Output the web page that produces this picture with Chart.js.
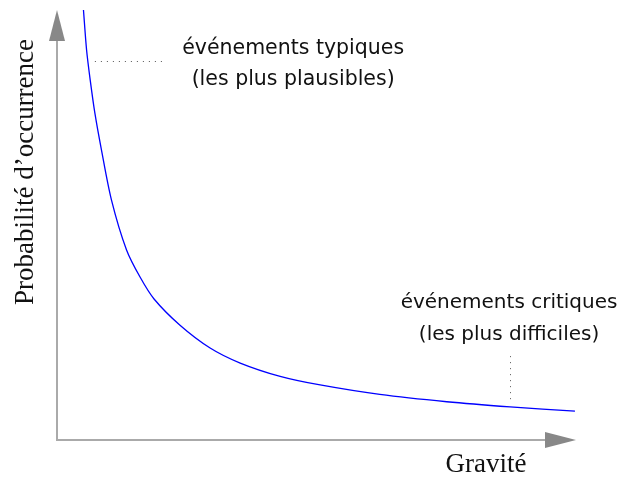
<!DOCTYPE html>
<html>
<head>
<meta charset="utf-8">
<script src="https://cdn.jsdelivr.net/npm/chart.js@4/dist/chart.umd.min.js"></script>
<style>
  html, body { margin: 0; padding: 0; background: #fff; }
  #chart { display: block; }
</style>
</head>
<body>
<canvas id="chart" width="624" height="478"></canvas>
<script>
// curve (gravity vs probability, arbitrary units)
const gravity = [0.51, 0.57, 0.64, 0.73, 0.85, 1.05, 1.34, 1.60, 1.87, 2.37, 2.95, 3.53, 4.30, 5.07, 6.22, 7.51, 8.73, 9.98];
const probability = [10.0, 9.07, 8.37, 7.60, 6.79, 5.58, 4.42, 3.79, 3.28, 2.67, 2.14, 1.79, 1.48, 1.28, 1.06, 0.89, 0.77, 0.67];

const xTitle = 'Gravité';
const yTitle = 'Probabilité d\u2019occurrence';
const typicalLabel = ['événements typiques', '(les plus plausibles)'];
const criticalLabel = ['événements critiques', '(les plus difficiles)'];

const SANS = '"DejaVu Sans", sans-serif';
const SERIF = '"Liberation Serif", "DejaVu Serif", serif';

const points = gravity.map((g, i) => ({ x: g, y: probability[i] }));

// arrows, dotted leaders and text
const decor = {
  id: 'decor',
  afterDatasetsDraw(ch) {
    const { ctx, chartArea: a, scales: { x, y } } = ch;
    ctx.save();
    // axes
    ctx.strokeStyle = '#aaaaaa';
    ctx.lineWidth = 2;
    ctx.beginPath();
    ctx.moveTo(a.left, a.top + 20);
    ctx.lineTo(a.left, a.bottom);
    ctx.lineTo(a.right - 20, a.bottom);
    ctx.stroke();
    ctx.fillStyle = '#888888';
    ctx.beginPath();
    ctx.moveTo(a.left, a.top);
    ctx.lineTo(a.left - 8, a.top + 31);
    ctx.lineTo(a.left + 8, a.top + 31);
    ctx.closePath();
    ctx.fill();
    ctx.beginPath();
    ctx.moveTo(a.right, a.bottom);
    ctx.lineTo(a.right - 31, a.bottom - 8);
    ctx.lineTo(a.right - 31, a.bottom + 8);
    ctx.closePath();
    ctx.fill();

    // dotted leaders
    ctx.strokeStyle = '#555';
    ctx.lineWidth = 1;
    ctx.setLineDash([1, 5]);
    ctx.beginPath();
    ctx.moveTo(x.getPixelForValue(0.73), Math.round(y.getPixelForValue(8.81)) + 0.5);
    ctx.lineTo(x.getPixelForValue(2.08), Math.round(y.getPixelForValue(8.81)) + 0.5);
    ctx.moveTo(Math.round(x.getPixelForValue(8.73)) + 0.5, y.getPixelForValue(1.95));
    ctx.lineTo(Math.round(x.getPixelForValue(8.73)) + 0.5, y.getPixelForValue(0.88));
    ctx.stroke();
    ctx.setLineDash([]);

    // annotations
    ctx.fillStyle = '#111';
    ctx.textAlign = 'center';
    ctx.textBaseline = 'alphabetic';
    ctx.font = '20.5px ' + SANS;
    ctx.fillText(typicalLabel[0], x.getPixelForValue(4.55), y.getPixelForValue(8.98));
    ctx.fillText(typicalLabel[1], x.getPixelForValue(4.55), y.getPixelForValue(8.26));
    ctx.font = '20px ' + SANS;
    ctx.fillText(criticalLabel[0], x.getPixelForValue(8.71), y.getPixelForValue(3.07));
    ctx.fillText(criticalLabel[1], x.getPixelForValue(8.71), y.getPixelForValue(2.33));

    // axis titles
    ctx.font = '27px ' + SERIF;
    ctx.fillText(xTitle, 486, 472);
    ctx.translate(33, 172);
    ctx.rotate(-Math.PI / 2);
    ctx.fillText(yTitle, 0, 0);
    ctx.restore();
  }
};

new Chart(document.getElementById('chart'), {
  type: 'scatter',
  data: {
    datasets: [{
      data: points,
      showLine: true,
      borderColor: '#0000ff',
      borderWidth: 1.3,
      pointRadius: 0,
      tension: 0.3,
      clip: false
    }]
  },
  options: {
    responsive: false,
    animation: false,
    layout: { padding: { left: 57, right: 48, top: 10, bottom: 38 } },
    plugins: { legend: { display: false }, tooltip: { enabled: false } },
    scales: {
      x: { type: 'linear', min: 0, max: 10, display: false },
      y: { type: 'linear', min: 0, max: 10, display: false }
    }
  },
  plugins: [decor]
});
</script>
</body>
</html>
